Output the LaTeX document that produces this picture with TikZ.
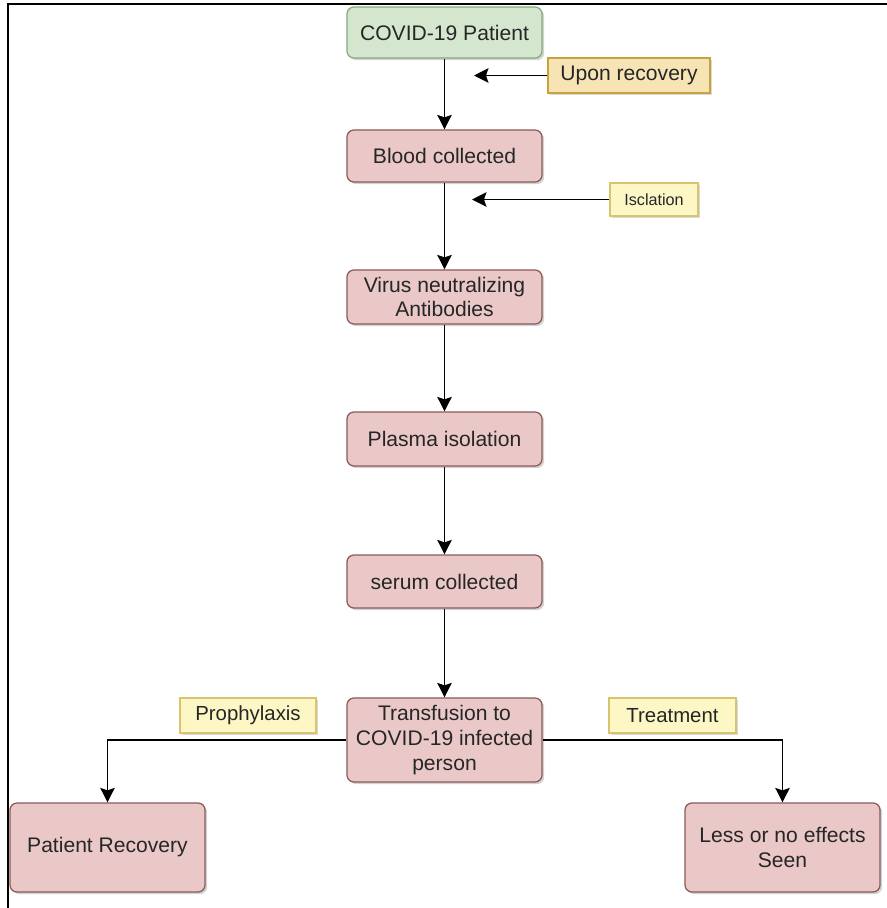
\documentclass[tikz,border=0pt]{standalone}
\usepackage{fontspec}
\setmainfont{Liberation Sans}
\usetikzlibrary{arrows.meta,positioning,shadows}
\definecolor{boxfill}{HTML}{EBC8C8}
\definecolor{boxline}{HTML}{8C5A5A}
\definecolor{startfill}{HTML}{D5E6CF}
\definecolor{startline}{HTML}{86AC7C}
\definecolor{recfill}{HTML}{F7E4B4}
\definecolor{recline}{HTML}{C9A23E}
\definecolor{notefill}{HTML}{FCF7C4}
\definecolor{noteline}{HTML}{D8C46C}
\begin{document}
\begin{tikzpicture}[x=0.025cm, y=-0.025cm,
  every node/.style={font=\fontsize{15}{17.5}\selectfont, text=black!85},
  box/.style={rectangle, rounded corners=5pt, draw=boxline, fill=boxfill,
    line width=0.9pt, align=center, minimum width=4.875cm, minimum height=1.3cm,
    inner sep=2pt, drop shadow={shadow xshift=1.5pt, shadow yshift=-1.5pt, opacity=0.35}},
  start/.style={box, draw=startline, fill=startfill},
  note/.style={rectangle, draw=noteline, fill=notefill, line width=0.9pt,
    minimum height=0.875cm, inner sep=3pt, align=center,
    drop shadow={shadow xshift=1.5pt, shadow yshift=-1.5pt, opacity=0.3}},
  recnote/.style={note, draw=recline, fill=recfill},
  a/.style={-{Stealth[length=0.36cm, width=0.36cm, inset=0.06cm]}, line width=1.3pt}
]
\useasboundingbox (0,0) rectangle (887,908);
% frame (top and left edges only)
\draw[line width=1.6pt] (8,908) -- (8,4) -- (887,4);

% main column
\node[start] (patient) at (444.5,32.5) [minimum height=1.275cm] {COVID-19 Patient};
\node[box] (blood) at (444.5,156) {Blood collected};
\node[box] (virus) at (444.5,297) [minimum height=1.35cm] {Virus neutralizing\\Antibodies};
\node[box] (plasma) at (444.5,439) [minimum height=1.35cm] {Plasma isolation};
\node[box] (serum) at (444.5,581.5) [minimum height=1.325cm] {serum collected};
\node[box] (trans) at (444.5,740) [minimum height=2.1cm] {Transfusion to\\COVID-19 infected\\person};

% outcomes
\node[box] (precov) at (107.5,847.5) [minimum height=2.225cm] {Patient Recovery};
\node[box] (less) at (782.5,847.5) [minimum height=2.225cm] {Less or no effects\\Seen};

% side notes
\node[recnote] (recov) at (629,75.5) [minimum width=4.05cm] {Upon recovery};
\node[note] (iso) at (654,199.5) [minimum width=2.2cm, minimum height=0.825cm,
  font=\fontsize{11.5}{13}\selectfont] {Isclation};
\node[note] (proph) at (248,715.5) [minimum width=3.4cm, font=\fontsize{14.5}{17}\selectfont] {Prophylaxis};
\node[note] (treat) at (672.5,715.5) [minimum width=3.175cm, font=\fontsize{14.5}{17}\selectfont] {Treatment};
\coordinate (r1) at (474,75.5);
\coordinate (i1) at (472,199.5);

% connectors
\draw[a] (patient) -- (blood);
\draw[a] (blood) -- (virus);
\draw[a] (virus) -- (plasma);
\draw[a] (plasma) -- (serum);
\draw[a] (serum) -- (trans);
\draw[a] (recov) -- (r1);
\draw[a] (iso) -- (i1);
\draw[a] (trans.west) -| (precov.north);
\draw[a] (trans.east) -| (less.north);
\end{tikzpicture}
\end{document}
